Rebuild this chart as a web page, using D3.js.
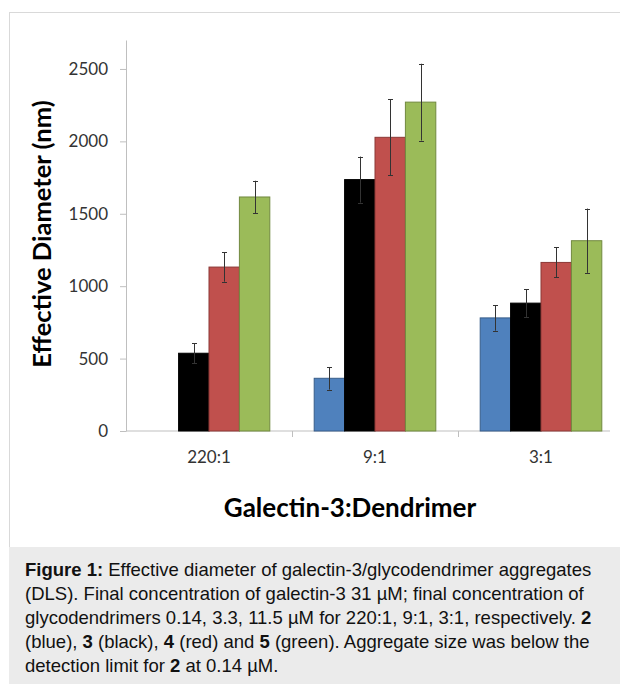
<!DOCTYPE html>
<html>
<head>
<meta charset="utf-8">
<script src="https://cdn.jsdelivr.net/npm/d3@7"></script>
<style>
  body { margin: 0; background: #fff; }
  svg { display: block; }
</style>
</head>
<body>
<div id="chart"></div>
<script>
// --- Data ---
const categories = ['220:1', '9:1', '3:1'];
const seriesNames = ['2', '3', '4', '5'];
const meanBlue  = [null, 364, 781];
const meanBlack = [537, 1736, 883];
const meanRed   = [1132, 2028, 1164];
const meanGreen = [1616, 2271, 1314];
const errBlue  = [null, 78, 88];
const errBlack = [70, 159, 97];
const errRed   = [101, 262, 104];
const errGreen = [112, 265, 222];
const yTicks = [0, 500, 1000, 1500, 2000, 2500];

const fills   = ['#4f81bd', '#000000', '#c0504d', '#9bbb59'];
const strokes = ['#385d8a', '#000000', '#8c3836', '#71893f'];

const captionLines = [
  [['Figure 1:', true], [' Effective diameter of galectin-3/glycodendrimer aggregates', false]],
  [['(DLS). Final concentration of galectin-3 31 \u00b5M; final concentration of', false]],
  [['glycodendrimers 0.14, 3.3, 11.5 \u00b5M for 220:1, 9:1, 3:1, respectively. ', false], ['2', true]],
  [['(blue), ', false], ['3', true], [' (black), ', false], ['4', true], [' (red) and ', false], ['5', true], [' (green). Aggregate size was below the', false]],
  [['detection limit for ', false], ['2', true], [' at 0.14 \u00b5M.', false]]
];

const means = [meanBlue, meanBlack, meanRed, meanGreen];
const errs = [errBlue, errBlack, errRed, errGreen];

// flatten into bar records
const bars = [];
seriesNames.forEach((s, si) => {
  categories.forEach((c, ci) => {
    if (means[si][ci] == null) return;
    bars.push({ cat: c, series: s, si, value: means[si][ci], err: errs[si][ci] });
  });
});

// --- Dimensions ---
const W = 620, H = 684;
const plot = { left: 126, right: 624, top: 40, bottom: 431, axisEnd: 610 };

const svg = d3.select('#chart').append('svg')
  .attr('width', W)
  .attr('height', H);

// outer frame
svg.append('rect')
  .attr('x', 9.5).attr('y', 12.5)
  .attr('width', W).attr('height', H)
  .attr('fill', '#fff')
  .attr('stroke', '#d9d9d9');

// --- Scales ---
const x0 = d3.scaleBand().domain(categories).range([plot.left, plot.right]);
const x1 = d3.scaleBand().domain(seriesNames).range([0, x0.bandwidth()])
  .paddingInner(0).paddingOuter(0.73);
const y = d3.scaleLinear().domain([0, 2700]).range([plot.bottom, plot.top]);

const font = 'Lato, Carlito, Calibri, sans-serif';

// --- Y axis ---
const yAxisG = svg.append('g')
  .attr('transform', `translate(${plot.left},0)`)
  .call(d3.axisLeft(y).tickValues(yTicks).tickFormat(d3.format('d'))
    .tickSize(6).tickPadding(12).tickSizeOuter(0));
yAxisG.select('.domain').attr('stroke', '#bfbfbf');
yAxisG.selectAll('.tick line').attr('stroke', '#bfbfbf');
yAxisG.selectAll('.tick text')
  .attr('fill', '#333')
  .style('font', `17px ${font}`);

// --- X axis ---
const xAxisG = svg.append('g')
  .attr('transform', `translate(0,${plot.bottom})`);
xAxisG.append('line')
  .attr('x1', plot.left).attr('x2', plot.axisEnd)
  .attr('stroke', '#bfbfbf');
xAxisG.selectAll('line.sep')
  .data(categories.slice(1))
  .join('line')
  .attr('class', 'sep')
  .attr('x1', d => Math.round(x0(d)) + 0.5)
  .attr('x2', d => Math.round(x0(d)) + 0.5)
  .attr('y1', 0).attr('y2', 6)
  .attr('stroke', '#bfbfbf');
xAxisG.selectAll('text')
  .data(categories)
  .join('text')
  .attr('x', d => x0(d) + x0.bandwidth() / 2)
  .attr('y', 32)
  .attr('text-anchor', 'middle')
  .attr('fill', '#333')
  .style('font', `17px ${font}`)
  .text(d => d);

// --- Bars ---
svg.append('g')
  .selectAll('rect')
  .data(bars)
  .join('rect')
  .attr('x', d => x0(d.cat) + x1(d.series))
  .attr('y', d => y(d.value))
  .attr('width', x1.bandwidth())
  .attr('height', d => y(0) - y(d.value))
  .attr('fill', d => fills[d.si])
  .attr('stroke', d => strokes[d.si])
  .attr('stroke-width', 1);

// --- Error bars ---
const errG = svg.append('g')
  .attr('stroke', '#333')
  .attr('stroke-width', 1);
const cx = d => Math.round(x0(d.cat) + x1(d.series) + x1.bandwidth() / 2) + 0.5;
errG.selectAll('line.v')
  .data(bars)
  .join('line')
  .attr('class', 'v')
  .attr('x1', cx).attr('x2', cx)
  .attr('y1', d => y(d.value - d.err))
  .attr('y2', d => y(d.value + d.err));
errG.selectAll('line.cap')
  .data(bars.flatMap(d => [[d, d.value + d.err], [d, d.value - d.err]]))
  .join('line')
  .attr('class', 'cap')
  .attr('x1', d => cx(d[0]) - 2.5).attr('x2', d => cx(d[0]) + 2.5)
  .attr('y1', d => Math.round(y(d[1])) + 0.5)
  .attr('y2', d => Math.round(y(d[1])) + 0.5);

// --- Axis titles ---
svg.append('text')
  .attr('transform', `translate(51,234) rotate(-90)`)
  .attr('text-anchor', 'middle')
  .attr('fill', '#000')
  .style('font', `bold 25.5px ${font}`)
  .text('Effective Diameter (nm)');

svg.append('text')
  .attr('x', 350)
  .attr('y', 517)
  .attr('text-anchor', 'middle')
  .attr('fill', '#000')
  .style('font', `bold 26px ${font}`)
  .text('Galectin-3:Dendrimer');

// --- Caption ---
svg.append('rect')
  .attr('x', 9).attr('y', 547)
  .attr('width', W - 9).attr('height', H - 547)
  .attr('fill', '#ebebeb');

const cap = svg.append('g')
  .style('font', '18.5px "Liberation Sans", Arial, sans-serif')
  .attr('fill', '#111');
captionLines.forEach((parts, i) => {
  const t = cap.append('text')
    .attr('x', 25)
    .attr('y', 576 + i * 24);
  parts.forEach(([str, bold]) => {
    t.append('tspan')
      .attr('font-weight', bold ? 'bold' : 'normal')
      .style('white-space', 'pre')
      .text(str);
  });
});
</script>
</body>
</html>
